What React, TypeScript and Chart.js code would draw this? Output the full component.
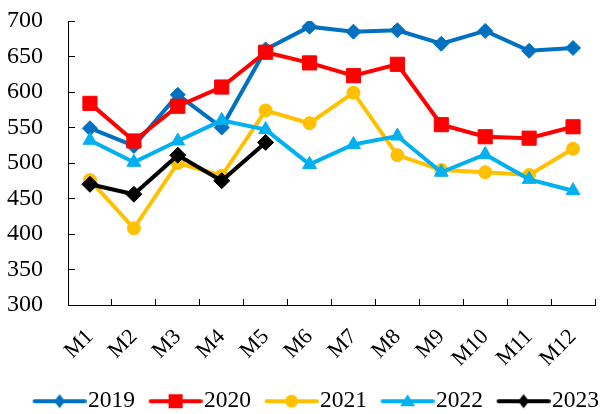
import React, { useEffect, useRef } from "react";
import { Chart, registerables } from "chart.js";

Chart.register(...registerables);

const months = ["M1", "M2", "M3", "M4", "M5", "M6", "M7", "M8", "M9", "M10", "M11", "M12"];
const seriesNames = ["2019", "2020", "2021", "2022", "2023"];
const v2019 = [549, 524, 596, 550, 660, 692, 685, 687, 668, 686, 658, 662];
const v2020 = [584, 531, 580, 607, 656, 641, 623, 639, 554, 537, 535, 551];
const v2021 = [476, 408, 500, 482, 574, 556, 599, 511, 490, 487, 483, 520];
const v2022 = [532, 501, 531, 560, 547, 498, 526, 538, 487, 512, 477, 461];
const v2023 = [470, 456, 511, 475, 529];
const yMin = 300;
const yMax = 700;
const yStep = 50;

const seriesValues = [v2019, v2020, v2021, v2022, v2023];
const colors = ["#0070C0", "#FF0000", "#FFC000", "#00B0F0", "#000000"];
const pointStyles = ["rectRot", "rect", "circle", "triangle", "rectRot"];
const pointRadii = [7.5, 10, 6.5, 8, 8];

const FONT = "'Liberation Serif', 'Times New Roman', serif";

function makeLegendImage(color: string, style: string): HTMLCanvasElement {
  const c = document.createElement("canvas");
  c.width = 72;
  c.height = 20;
  const ctx = c.getContext("2d")!;
  ctx.strokeStyle = color;
  ctx.fillStyle = color;
  ctx.lineWidth = 4;
  ctx.lineCap = "round";
  ctx.beginPath();
  ctx.moveTo(20, 10);
  ctx.lineTo(70, 10);
  ctx.stroke();
  const cx = 45;
  const cy = 10;
  ctx.beginPath();
  if (style === "rectRot") {
    ctx.moveTo(cx, cy - 7);
    ctx.lineTo(cx + 5.5, cy);
    ctx.lineTo(cx, cy + 7);
    ctx.lineTo(cx - 5.5, cy);
    ctx.closePath();
  } else if (style === "rect") {
    ctx.rect(cx - 7, cy - 7, 14, 14);
  } else if (style === "circle") {
    ctx.arc(cx, cy, 6.5, 0, Math.PI * 2);
  } else if (style === "triangle") {
    ctx.moveTo(cx, cy - 7);
    ctx.lineTo(cx + 7.5, cy + 5);
    ctx.lineTo(cx - 7.5, cy + 5);
    ctx.closePath();
  }
  ctx.fill();
  return c;
}

export default function App() {
  const canvasRef = useRef<HTMLCanvasElement | null>(null);

  useEffect(() => {
    if (!canvasRef.current) return;
    const legendImages = seriesNames.map((_, i) => makeLegendImage(colors[i], pointStyles[i]));
    const datasets = seriesNames.map((name, i) => ({
      label: name,
      data: seriesValues[i],
      borderColor: colors[i],
      backgroundColor: colors[i],
      borderWidth: 4,
      pointStyle: pointStyles[i] as any,
      pointRadius: pointRadii[i],
      pointHoverRadius: pointRadii[i],
      pointBackgroundColor: colors[i],
      pointBorderColor: colors[i],
      pointBorderWidth: 1,
      tension: 0,
      fill: false,
      order: seriesNames.length - i,
    }));

    const chart = new Chart(canvasRef.current, {
      type: "line",
      data: { labels: months, datasets },
      options: {
        responsive: false,
        animation: false,
        devicePixelRatio: 1,
        layout: { padding: { top: 21, left: 7, right: 1, bottom: 0 } },
        plugins: {
          legend: {
            position: "bottom",
            align: "end",
            labels: {
              usePointStyle: true,
              pointStyleWidth: 51.25,
              padding: 6,
              color: "#000",
              font: { family: FONT, size: 23.5 },
              generateLabels: (ch: any) => {
                const items = (Chart.defaults.plugins.legend.labels as any).generateLabels(ch);
                items.sort((a: any, b: any) => a.datasetIndex - b.datasetIndex);
                return items.map((it: any) => ({ ...it, pointStyle: legendImages[it.datasetIndex] }));
              },
            },
          },
          tooltip: { enabled: false },
        },
        scales: {
          x: {
            offset: true,
            grid: {
              display: true,
              drawOnChartArea: false,
              drawTicks: true,
              tickLength: -6,
              color: "#000",
              lineWidth: 1,
              offset: true,
            },
            border: { display: true, color: "#000", width: 1 },
            ticks: {
              minRotation: 45,
              maxRotation: 45,
              autoSkip: false,
              padding: 25,
              color: "#000",
              font: { family: FONT, size: 22 },
            },
            afterFit: (s: any) => {
              s.height = 78.5;
              s.paddingLeft = 0;
              s.paddingRight = 0;
            },
          },
          y: {
            min: yMin,
            max: yMax,
            grid: {
              display: true,
              drawOnChartArea: false,
              drawTicks: true,
              tickLength: -7,
              color: "#000",
              lineWidth: 1,
            },
            border: { display: true, color: "#000", width: 1 },
            ticks: {
              stepSize: yStep,
              padding: 32,
              color: "#000",
              font: { family: FONT, size: 24 },
            },
            afterFit: (s: any) => {
              s.width = 61;
              s.paddingTop = 0;
              s.paddingBottom = 0;
            },
          },
        },
      },
    });
    return () => chart.destroy();
  }, []);

  return (
    <div style={{ position: "absolute", left: 0, top: 0, width: 606, height: 414, overflow: "hidden", background: "#fff" }}>
      <canvas ref={canvasRef} width={606} height={423} style={{ display: "block" }} />
    </div>
  );
}
